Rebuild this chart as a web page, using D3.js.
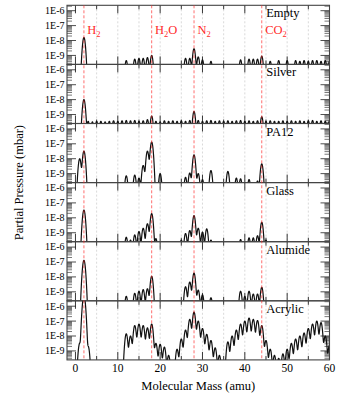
<!DOCTYPE html>
<html><head><meta charset="utf-8">
<script src="https://cdn.jsdelivr.net/npm/d3@7"></script>
<style>
html,body{margin:0;padding:0;background:#fff;}
svg{display:block;font-family:"Liberation Serif","Times New Roman",serif;}
</style></head>
<body><svg id="c" width="339" height="402"></svg>
<script>
// ---- data (peak partial pressures, mbar, at integer masses) ----
const panelNames = ["Empty", "Silver", "PA12", "Glass", "Alumide", "Acrylic"];

const emptyPeaks = [[2,1.6e-8],[12,4.5e-10],[14,5.6e-10],[15,6.3e-10],[16,6.3e-10],[17,7.1e-10],[18,1.0e-9],
  [26,6.3e-10],[27,6.3e-10],[28,2.8e-9],[29,7.9e-10],[30,5.0e-10],[32,4.0e-10],
  [39,5.0e-10],[41,5.6e-10],[42,5.6e-10],[43,5.6e-10],[44,8.9e-10],[46,4.0e-10],[48,4.5e-10],
  [50,4.5e-10],[52,4.5e-10],[53,4.0e-10],[54,4.5e-10],[55,4.0e-10],[56,4.5e-10],[57,4.5e-10],
  [58,4.0e-10],[59,4.5e-10],[60,4.0e-10]];

const silverPeaks = [[2,1.0e-8],[3,3.5e-10],[4,3.2e-10],[5,3.5e-10],[6,3.5e-10],[7,3.2e-10],[8,3.5e-10],
  [9,3.8e-10],[10,3.5e-10],[11,3.8e-10],[12,4.0e-10],[13,3.8e-10],[14,4.0e-10],[15,3.5e-10],[16,3.8e-10],
  [17,4.5e-10],[18,7.9e-10],[19,3.5e-10],[20,3.2e-10],[21,3.8e-10],[22,3.5e-10],[23,3.8e-10],[24,3.5e-10],
  [25,3.8e-10],[26,3.5e-10],[27,4.0e-10],[28,1.6e-9],[29,4.0e-10],[30,3.5e-10],[31,3.8e-10],[32,4.0e-10],
  [33,3.5e-10],[34,3.8e-10],[35,3.5e-10],[36,3.8e-10],[37,3.5e-10],[38,3.8e-10],[39,4.0e-10],[40,3.5e-10],
  [41,3.8e-10],[42,3.5e-10],[43,3.8e-10],[44,7.1e-10],[45,3.5e-10],[46,3.8e-10],[47,3.5e-10],[48,3.5e-10],
  [49,3.8e-10],[50,3.5e-10],[51,3.8e-10],[52,3.5e-10],[53,3.8e-10],[54,3.5e-10],[55,3.8e-10],[56,4.0e-10],
  [57,3.5e-10],[58,3.8e-10],[59,3.5e-10],[60,3.8e-10]];

const pa12Peaks = [[1,1.0e-8],[2,3.2e-8],[12,7.1e-10],[14,7.9e-10],[15,5.0e-10],[16,3.5e-9],[17,3.2e-8],
  [18,1.3e-7],[20,1.0e-9],[26,5.6e-10],[27,1.1e-9],[28,1.8e-8],[29,1.0e-9],[30,4.0e-10],[32,1.6e-9],
  [36,1.4e-9],[38,5.0e-10],[39,4.5e-10],[41,4.0e-10],[43,3.2e-10],[44,4.5e-9]];

const glassPeaks = [[2,3.3e-8],[12,5.0e-10],[13,3.2e-10],[14,7.1e-10],[15,1.2e-9],[16,2.0e-9],[17,4.0e-9],
  [18,1.9e-8],[19,4.0e-10],[25,3.2e-10],[26,8.9e-10],[27,1.4e-9],[28,1.4e-8],[29,2.0e-9],[30,1.1e-9],
  [31,1.8e-9],[32,3.2e-10],[39,3.5e-10],[41,4.5e-10],[42,4.5e-10],[43,6.3e-10],[44,5.0e-9],[45,3.2e-10]];

const alumidePeaks = [[2,1.3e-7],[12,5.0e-10],[14,7.9e-10],[15,1.1e-9],[16,1.4e-9],[17,1.6e-9],[18,1.1e-8],
  [26,2.2e-9],[27,4.5e-9],[28,1.8e-8],[29,1.3e-9],[30,6.3e-10],[32,4.0e-10],[39,1.1e-9],[40,5.0e-10],
  [41,1.1e-9],[42,7.1e-10],[43,7.1e-10],[44,2.0e-9]];

const acrylicPeaks = [[1,3.2e-9],[2,5.0e-6],[3,2.0e-9],[12,1.4e-8],[13,1.0e-8],[14,5.0e-8],[15,6.3e-8],
  [16,5.0e-8],[17,3.5e-8],[18,6.3e-8],[19,3.2e-9],[20,2.8e-9],[21,1.8e-9],[22,5.0e-10],[24,1.3e-9],
  [25,6.3e-9],[26,2.5e-8],[27,1.3e-7],[28,4.0e-7],[29,1.0e-7],[30,3.2e-8],[31,1.3e-8],[32,5.0e-9],
  [33,1.6e-9],[34,5.0e-10],[36,4.0e-9],[37,1.0e-8],[38,2.5e-8],[39,6.3e-8],[40,1.0e-7],[41,1.6e-7],
  [42,1.3e-7],[43,1.1e-7],[44,5.0e-8],[45,5.0e-9],[46,1.3e-9],[47,5.0e-10],[48,3.2e-10],[49,6.3e-10],
  [50,1.3e-9],[51,3.2e-9],[52,6.3e-9],[53,1.0e-8],[54,1.6e-8],[55,3.2e-8],[56,6.3e-8],[57,1.0e-7],
  [58,7.9e-8],[59,1.0e-8],[60,2.5e-9]];

const panelPeaks = [emptyPeaks, silverPeaks, pa12Peaks, glassPeaks, alumidePeaks, acrylicPeaks];

const xTickValues = [0, 10, 20, 30, 40, 50, 60];
const yTickValues = [1e-6, 1e-7, 1e-8, 1e-9];
const yTickLabels = ["1E-6", "1E-7", "1E-8", "1E-9"];
const markerMasses = [2, 18, 28, 44];
const markerLabels = [["H","2",""], ["H","2","O"], ["N","2",""], ["CO","2",""]];

// ---- layout ----
const L = 67, R = 329.5, T = 5.3, PH = 59.1;
const svg = d3.select("#c");
const x = d3.scaleLinear().domain([-2, 60]).range([L, R]);
const B = T + PH * panelNames.length;
const peakSigma = 0.22;
const red = "#ff2a2a";

const defs = svg.append("defs");

panelNames.forEach((name, i) => {
  const top = T + i * PH, bot = top + PH;
  const y = d3.scaleLog().domain([2.5e-10, 2.3e-6]).range([bot, top]);
  const g = svg.append("g");

  defs.append("clipPath").attr("id", "clip" + i)
    .append("rect").attr("x", L).attr("y", top).attr("width", R - L).attr("height", PH);

  // grid lines every 5 amu
  d3.range(5, 60, 5).forEach(m => {
    g.append("line").attr("x1", x(m)).attr("x2", x(m)).attr("y1", top).attr("y2", bot)
      .attr("stroke", "#c8c8c8").attr("stroke-width", 0.7).attr("stroke-dasharray", "2,2");
  });

  // x ticks top & bottom
  d3.range(0, 61, 5).forEach(m => {
    const len = m % 10 === 0 ? 8 : 4;
    g.append("line").attr("x1", x(m)).attr("x2", x(m)).attr("y1", bot).attr("y2", bot - len)
      .attr("stroke", "#222").attr("stroke-width", 0.9);
    g.append("line").attr("x1", x(m)).attr("x2", x(m)).attr("y1", top).attr("y2", top + len)
      .attr("stroke", "#222").attr("stroke-width", 0.9);
  });

  // y ticks (log) left & right
  for (let d = -10; d <= -6; d++) {
    for (let k = 1; k <= 9; k++) {
      const v = k * Math.pow(10, d);
      if (v < 2.5e-10 || v > 2.3e-6) continue;
      const len = k === 1 ? 9 : 5;
      const yy = y(v);
      g.append("line").attr("x1", L).attr("x2", L + len).attr("y1", yy).attr("y2", yy)
        .attr("stroke", k === 1 ? "#222" : "#555").attr("stroke-width", 0.8);
      g.append("line").attr("x1", R).attr("x2", R - len).attr("y1", yy).attr("y2", yy)
        .attr("stroke", k === 1 ? "#222" : "#555").attr("stroke-width", 0.8);
    }
  }

  // y tick labels
  yTickValues.forEach((v, j) => {
    g.append("text").attr("x", L - 2.5).attr("y", y(v) + 3.4).attr("text-anchor", "end")
      .attr("font-size", 10).attr("fill", "#000").text(yTickLabels[j]);
  });

  // spectrum trace
  const peaks = panelPeaks[i];
  const pts = d3.range(-2, 60.001, 0.02).map(m => {
    let s = 0;
    peaks.forEach(([pm, pv]) => {
      const dm = m - pm;
      if (Math.abs(dm) < 3) s += pv * Math.exp(-dm * dm / (2 * peakSigma * peakSigma));
    });
    return [m, Math.max(s, 1.5e-10)];
  });
  g.append("path").attr("clip-path", "url(#clip" + i + ")")
    .attr("d", d3.line().x(d => x(d[0])).y(d => y(d[1]))(pts))
    .attr("fill", "none").attr("stroke", "#111").attr("stroke-width", 1.2)
    .attr("stroke-linejoin", "round");

  // panel label
  g.append("text").attr("x", x(45.05)).attr("y", top + 12).attr("font-size", 12.5)
    .attr("fill", "#000").text(name);

  // frame
  g.append("rect").attr("x", L).attr("y", top).attr("width", R - L).attr("height", PH)
    .attr("fill", "none").attr("stroke", "#444").attr("stroke-width", 1.1);
});

// red marker lines
markerMasses.forEach(m => {
  svg.append("line").attr("x1", x(m)).attr("x2", x(m)).attr("y1", T).attr("y2", B)
    .attr("stroke", red).attr("stroke-width", 0.9).attr("stroke-dasharray", "3,2").attr("opacity", 0.75);
});
markerLabels.forEach((lab, j) => {
  const t = svg.append("text").attr("x", x(markerMasses[j]) + 3.4).attr("y", T + 29)
    .attr("font-size", 12.5).attr("fill", red);
  t.append("tspan").text(lab[0]);
  t.append("tspan").attr("dy", 3).attr("font-size", 8.5).text(lab[1]);
  if (lab[2]) t.append("tspan").attr("dy", -3).text(lab[2]);
});

// x tick labels
xTickValues.forEach(v => {
  svg.append("text").attr("x", x(v)).attr("y", B + 12).attr("text-anchor", "middle")
    .attr("font-size", 11.5).attr("fill", "#000").text(v);
});

// axis titles
svg.append("text").attr("x", (L + R) / 2).attr("y", 390).attr("text-anchor", "middle")
  .attr("font-size", 12.5).attr("fill", "#000").text("Molecular Mass (amu)");
svg.append("text").attr("transform", `translate(23,${(T + B) / 2}) rotate(-90)`)
  .attr("text-anchor", "middle").attr("font-size", 12.5).attr("fill", "#000")
  .text("Partial Pressure (mbar)");
</script></body></html>
